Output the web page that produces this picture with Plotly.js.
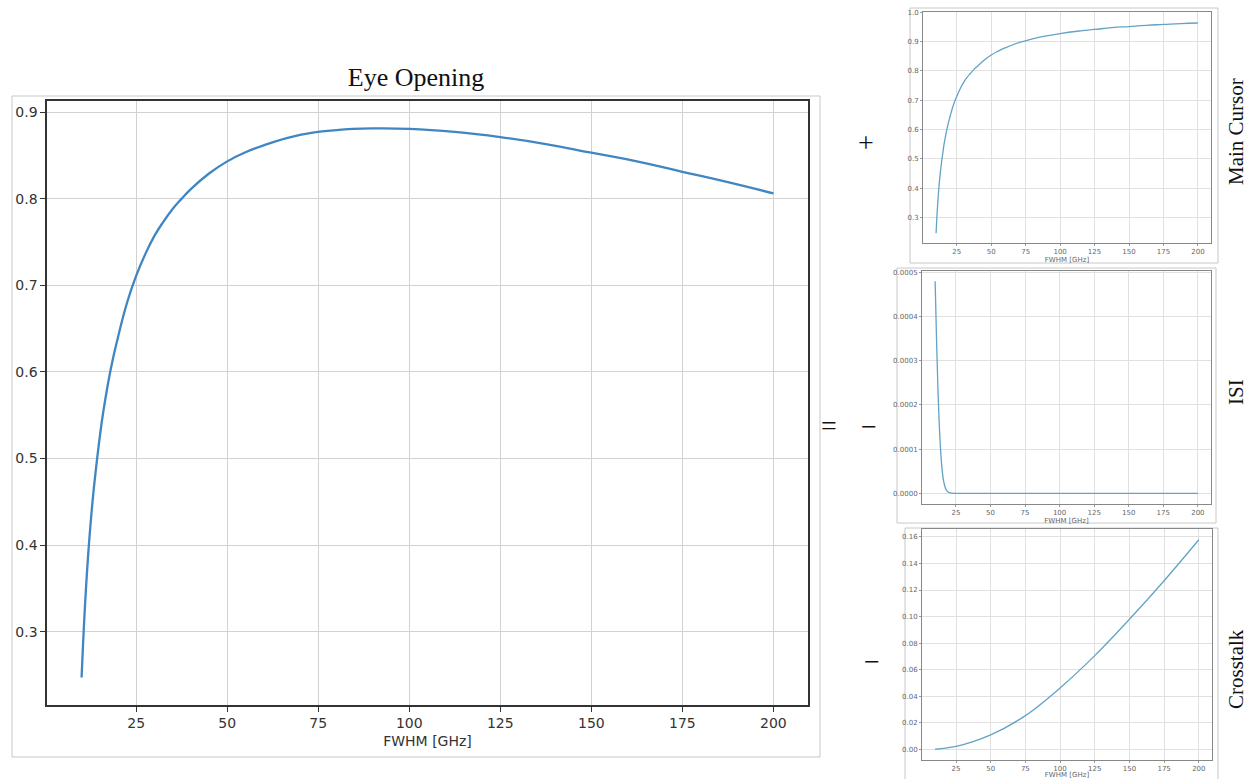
<!DOCTYPE html>
<html>
<head>
<meta charset="utf-8">
<script src="https://cdn.plot.ly/plotly-3.0.1.min.js"></script>
<style>html,body{margin:0;padding:0;background:#fff;}#chart{width:1248px;height:779px;}</style>
</head>
<body>
<div id="chart"></div>
<script>
// ---- Data ----
const fwhmMain = [10, 11, 12, 13, 14, 15, 16, 18, 20, 22.5, 25, 27.5, 30, 32.5, 35, 37.5, 40, 45, 50, 55, 60, 70, 80, 90, 100, 112.5, 125, 137.5, 150, 162.5, 175, 187.5, 200];
const eyeOpening = [0.247, 0.335, 0.40, 0.45, 0.49, 0.525, 0.555, 0.603, 0.64, 0.68, 0.711, 0.736, 0.757, 0.7735, 0.788, 0.800, 0.811, 0.829, 0.843, 0.8535, 0.8615, 0.8735, 0.879, 0.881, 0.8805, 0.877, 0.871, 0.863, 0.853, 0.843, 0.831, 0.819, 0.806];
const mainCursor = [0.247, 0.336, 0.40, 0.45, 0.49, 0.525, 0.556, 0.604, 0.642, 0.683, 0.713, 0.739, 0.761, 0.778, 0.792, 0.805, 0.816, 0.837, 0.854, 0.867, 0.878, 0.896, 0.909, 0.919, 0.927, 0.935, 0.941, 0.947, 0.951, 0.955, 0.958, 0.961, 0.963];

const fwhmIsi = [10, 11, 12, 13, 14, 15, 16, 17, 18, 20, 22, 25, 50, 100, 150, 200];
const isi = [0.00048, 0.00035, 0.00024, 0.000155, 0.000095, 0.000055, 0.00003, 0.000016, 0.000008, 0.000002, 0.0000005, 0, 0, 0, 0, 0];

const fwhmXt = [10, 25, 50, 75, 100, 125, 150, 175, 200];
const crosstalk = [0.0002, 0.0023, 0.011, 0.0255, 0.0463, 0.0706, 0.098, 0.127, 0.1578];

const xTicks = [25, 50, 75, 100, 125, 150, 175, 200];

const titleText = 'Eye Opening';
const xTitle = 'FWHM [GHz]';
const sideLabels = ['Main Cursor', 'ISI', 'Crosstalk'];
const operators = ['+', '=', '\u2212', '\u2212'];

// ---- Layout helpers (pixel -> paper) ----
const W = 1248, H = 779;
const px = v => v / W;
const py = v => 1 - v / H;

const mainColor = '#3f86c2';
const smallColor = '#62a3c6';
const gridMain = '#d2d2d2';
const gridSmall = '#e0e0e0';

function smallAxisX(dom, anchor) {
  return {
    domain: dom, anchor: anchor, range: [0.5, 209.5], tickvals: xTicks, showgrid: true, gridcolor: gridSmall, gridwidth: 1,
    zeroline: false, showline: true, mirror: true, linecolor: '#888', linewidth: 1,
    ticks: 'outside', ticklen: 2, tickcolor: '#999',
    tickfont: {family: 'DejaVu Sans', size: 7, color: '#666'},
    title: {text: xTitle, font: {family: 'DejaVu Sans', size: 7, color: '#666'}, standoff: 1}
  };
}
function smallAxisY(dom, anchor, range, dtick, fmt) {
  return {
    domain: dom, anchor: anchor, range: range, dtick: dtick, tick0: 0, tickformat: fmt,
    showgrid: true, gridcolor: gridSmall, gridwidth: 1, zeroline: false,
    showline: true, mirror: true, linecolor: '#888', linewidth: 1,
    ticks: 'outside', ticklen: 2, tickcolor: '#999',
    tickfont: {family: 'DejaVu Sans', size: 7, color: '#666'}
  };
}

const traces = [
  {x: fwhmMain, y: eyeOpening, xaxis: 'x', yaxis: 'y', type: 'scatter', mode: 'lines',
   line: {color: mainColor, width: 2.3, shape: 'spline', smoothing: 1.3}},
  {x: fwhmMain, y: mainCursor, xaxis: 'x2', yaxis: 'y2', type: 'scatter', mode: 'lines',
   line: {color: smallColor, width: 1.3, shape: 'spline', smoothing: 1.3}},
  {x: fwhmIsi, y: isi, xaxis: 'x3', yaxis: 'y3', type: 'scatter', mode: 'lines',
   line: {color: smallColor, width: 1.3, shape: 'spline', smoothing: 0.5}},
  {x: fwhmXt, y: crosstalk, xaxis: 'x4', yaxis: 'y4', type: 'scatter', mode: 'lines',
   line: {color: smallColor, width: 1.3, shape: 'spline', smoothing: 1}}
];

const frame = (x0, y0, x1, y1) => ({type: 'rect', xref: 'paper', yref: 'paper',
  x0: px(x0), x1: px(x1), y0: py(y1), y1: py(y0), line: {color: '#c8c8c8', width: 1}, fillcolor: 'rgba(0,0,0,0)', layer: 'below'});

const serif = 'Liberation Serif, Times New Roman, serif';
const note = (text, x, y, size, angle) => ({text: text, x: px(x), y: py(y), xref: 'paper', yref: 'paper',
  xanchor: 'center', yanchor: 'middle', showarrow: false, textangle: angle || 0,
  font: {family: serif, size: size, color: '#111'}});

const layout = {
  width: W, height: H,
  margin: {l: 0, r: 0, t: 0, b: 0},
  paper_bgcolor: '#fff', plot_bgcolor: '#fff',
  showlegend: false,
  title: {text: titleText, x: px(416), xref: 'paper', xanchor: 'center', y: py(77), yref: 'paper', yanchor: 'middle',
          font: {family: serif, size: 26, color: '#111'}},
  xaxis: {domain: [px(47), px(808)], anchor: 'y', range: [0.5, 209.5], tickvals: xTicks,
          showgrid: true, gridcolor: gridMain, gridwidth: 1,
          zeroline: false, showline: true, mirror: true, linecolor: '#333', linewidth: 1.6,
          ticks: 'outside', ticklen: 5, tickcolor: '#333', tickwidth: 1,
          tickfont: {family: 'DejaVu Sans', size: 14, color: '#333'},
          title: {text: xTitle, font: {family: 'DejaVu Sans', size: 14, color: '#333'}, standoff: 6}},
  yaxis: {domain: [py(705), py(101)], anchor: 'x', range: [0.2153, 0.9127], dtick: 0.1, tick0: 0, tickformat: '.1f',
          showgrid: true, gridcolor: gridMain, gridwidth: 1, zeroline: false,
          showline: true, mirror: true, linecolor: '#333', linewidth: 1.6,
          ticks: 'outside', ticklen: 5, tickcolor: '#333',
          tickfont: {family: 'DejaVu Sans', size: 14, color: '#333'}},
  xaxis2: smallAxisX([px(923), px(1211)], 'y2'),
  yaxis2: smallAxisY([py(243), py(12)], 'x2', [0.2135, 1.0005], 0.1, '.1f'),
  xaxis3: smallAxisX([px(922), px(1211)], 'y3'),
  yaxis3: smallAxisY([py(504), py(271)], 'x3', [-0.000024, 0.000503], 0.0001, '.4f'),
  xaxis4: smallAxisX([px(922), px(1212)], 'y4'),
  yaxis4: smallAxisY([py(760), py(529)], 'x4', [-0.0079, 0.1659], 0.02, '.2f'),
  shapes: [
    frame(12, 96, 820, 757),
    frame(910, 8, 1218, 263),
    frame(897, 268, 1216, 523),
    frame(905, 528, 1218, 790)
  ],
  annotations: [
    note(operators[0], 866, 142, 28),
    note(operators[1], 829, 425, 28),
    note(operators[2], 869, 427, 28),
    note(operators[3], 872, 661, 28),
    note(sideLabels[0], 1236, 132, 21, -90),
    note(sideLabels[1], 1236, 392, 21, -90),
    note(sideLabels[2], 1236, 669, 21, -90)
  ]
};

Plotly.newPlot('chart', traces, layout, {displayModeBar: false, staticPlot: true});
</script>
</body>
</html>
